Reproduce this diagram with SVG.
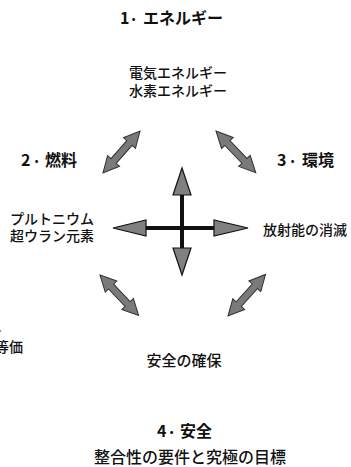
<svg xmlns="http://www.w3.org/2000/svg" width="351" height="467" viewBox="0 0 351 467">
<style>
.h{font-family:"Noto Sans CJK JP","Noto Sans CJK SC",sans-serif;font-weight:bold;font-size:16px;fill:#111}
.t{font-family:"Noto Sans CJK JP","Noto Sans CJK SC",sans-serif;font-weight:500;font-size:14px;fill:#111}
.da{fill:#7a7a7a;stroke:#333;stroke-width:1}
.hd{fill:#808080;stroke:#111;stroke-width:1.2}
</style>
<defs>
<polygon id="dbl" points="0,0 16,-8 16,-3.5 40,-3.5 40,-8 56,0 40,8 40,3.5 16,3.5 16,8"/>
</defs>
<rect width="351" height="467" fill="#fff"/>
<g id="node-energy">
<text class="h" y="24"><tspan x="120">1</tspan><tspan x="131" dy="-3">.</tspan><tspan x="143" dy="3">エネルギー</tspan></text>
<text class="t" x="178" y="78" text-anchor="middle">電気エネルギー</text>
<text class="t" x="178" y="96" text-anchor="middle">水素エネルギー</text>
</g>
<g id="node-fuel">
<text class="h" y="166"><tspan x="21">2</tspan><tspan x="34" dy="-3">.</tspan><tspan x="45" dy="3">燃料</tspan></text>
<text class="t" x="52" y="224" text-anchor="middle">プルトニウム</text>
<text class="t" x="52" y="241" text-anchor="middle">超ウラン元素</text>
</g>
<g id="node-env">
<text class="h" y="166"><tspan x="277">3</tspan><tspan x="290" dy="-3">.</tspan><tspan x="302" dy="3">環境</tspan></text>
<text class="t" x="305" y="235" text-anchor="middle">放射能の消滅</text>
</g>
<g id="node-safety">
<text class="t" x="184" y="366" text-anchor="middle" style="font-size:15px">安全の確保</text>
<text class="h" y="437"><tspan x="157">4</tspan><tspan x="169" dy="-3">.</tspan><tspan x="180" dy="3">安全</tspan></text>
</g>
<g id="caption">
<text class="t" x="190" y="463" text-anchor="middle" style="font-size:16px">整合性の要件と究極の目標</text>
<text class="t" x="10" y="331" text-anchor="end">t、</text>
<text class="t" x="23" y="352" text-anchor="end">等価</text>
</g>
<g id="connectors">
<use href="#dbl" class="da" transform="translate(103,173) rotate(-48.6)"/>
<use href="#dbl" class="da" transform="translate(216,131) rotate(46.4) scale(1.03,1)"/>
<use href="#dbl" class="da" transform="translate(100,275) rotate(46.4)"/>
<use href="#dbl" class="da" transform="translate(228,316) rotate(-47.9)"/>
<line x1="140" y1="228" x2="222" y2="228" stroke="#111" stroke-width="4"/>
<line x1="182" y1="190" x2="182" y2="252" stroke="#111" stroke-width="4"/>
<polygon class="hd" points="113,228 146,220 146,236"/>
<polygon class="hd" points="248,228 214,220 214,236"/>
<polygon class="hd" points="182,168 173,195 191,195"/>
<polygon class="hd" points="182,275 173,248 191,248"/>
</g>
</svg>
